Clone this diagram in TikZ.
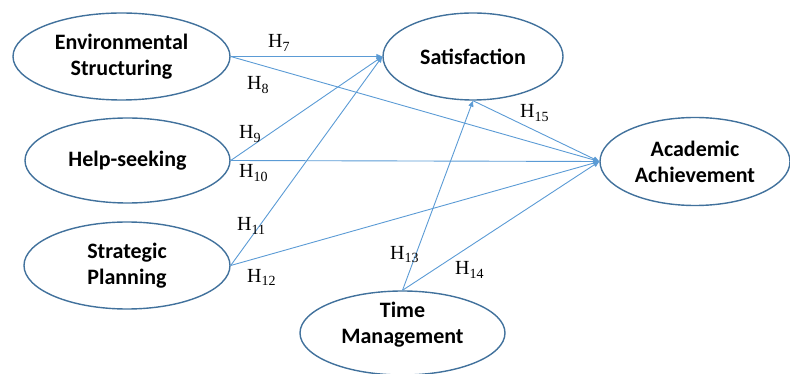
\documentclass[tikz,border=0pt]{standalone}
\usepackage{fontspec}
\setmainfont{Carlito}
\newfontfamily\hfont{Liberation Serif}
\usetikzlibrary{shapes.geometric,arrows.meta}
\definecolor{ellcol}{HTML}{41719C}
\definecolor{linecol}{HTML}{5B9BD5}
\begin{document}
\begin{tikzpicture}[x=1pt,y=-1pt,
  ell/.style={ellipse,draw=ellcol,line width=1.4pt,inner sep=0pt,align=center,
    font=\fontsize{22}{26}\selectfont\bfseries},
  txt/.style={align=center,font=\fontsize{22}{26}\selectfont\bfseries,inner sep=0pt},
  conn/.style={draw=linecol,line width=0.9pt,-{Triangle[length=6pt,width=5pt]}},
  hlab/.style={anchor=base west,inner sep=0pt,font=\fontsize{20}{24}\selectfont\hfont}]
\useasboundingbox (0,0) rectangle (790,374);
\node[ell,minimum width=217pt,minimum height=87pt] (es) at (121.5,56.5) {Environmental\\Structuring};
\node[ell,minimum width=205pt,minimum height=85pt] (hs) at (127.5,160.5) {Help-seeking};
\node[ell,minimum width=206pt,minimum height=87pt] (sp) at (127,265.5) {Strategic\\Planning};
\node[ell,minimum width=180pt,minimum height=87pt] (sat) at (473,56.5) {Satisfaction};
\node[ell,minimum width=190pt,minimum height=88pt] (aa) at (695,161.5) {Academic\\Achievement};
\node[ell,minimum width=205pt,minimum height=84pt] (tm) at (402.5,333) {};
\node[txt] (tmtext) at (402.5,324.5) {Time\\Management};
\draw[conn] (es.east) -- (sat.west);
\draw[conn] (es.east) -- (aa.west);
\draw[conn] (hs.east) -- (sat.west);
\draw[conn] (hs.east) -- (aa.west);
\draw[conn] (sp.east) -- (sat.west);
\draw[conn] (sp.east) -- (aa.west);
\draw[conn] (tm.north) -- (sat.south);
\draw[conn] (tm.north) -- (aa.west);
\draw[conn] (sat.south) -- (aa.west);
\node[hlab] (h7) at (268,48) {H\textsubscript{7}};
\node[hlab] (h8) at (247,90) {H\textsubscript{8}};
\node[hlab] (h9) at (239,139) {H\textsubscript{9}};
\node[hlab] (h10) at (239,178) {H\textsubscript{10}};
\node[hlab] (h11) at (237,231) {H\textsubscript{11}};
\node[hlab] (h12) at (247,282) {H\textsubscript{12}};
\node[hlab] (h13) at (390,259) {H\textsubscript{13}};
\node[hlab] (h14) at (455,275) {H\textsubscript{14}};
\node[hlab] (h15) at (520,118) {H\textsubscript{15}};
\end{tikzpicture}
\end{document}
